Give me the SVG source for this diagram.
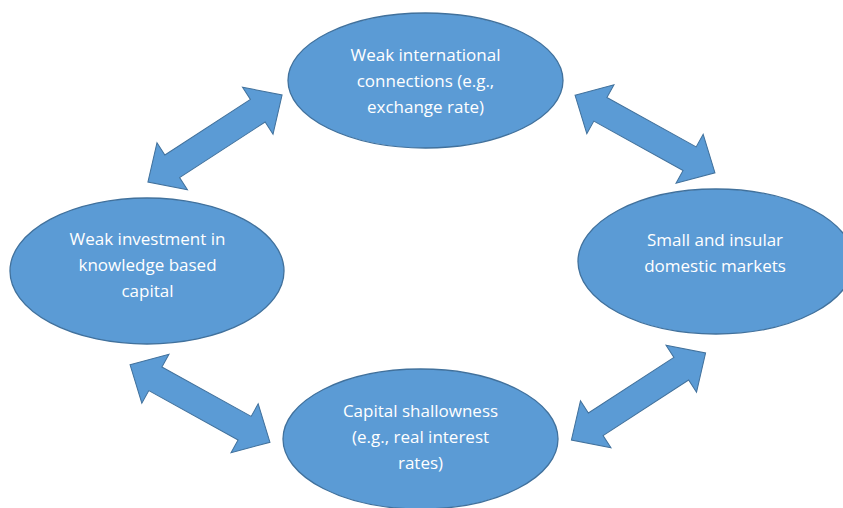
<svg xmlns="http://www.w3.org/2000/svg" width="843" height="508" viewBox="0 0 843 508">
<defs>
<style>
.node ellipse{fill:#5B9BD5;stroke:#41719C;stroke-width:1.3}
.node text{fill:#FFFFFF;font-family:"Open Sans","Liberation Sans",sans-serif;font-size:17px;text-anchor:middle}
.arrow{fill:#5B9BD5;stroke:#41719C;stroke-width:1}
</style>
<path id="dbl" d="M-80,0 L-51,-28 L-51,-13.5 L51,-13.5 L51,-28 L80,0 L51,28 L51,13.5 L-51,13.5 L-51,28 Z"/>
</defs>
<rect width="843" height="508" fill="#FFFFFF"/>
<g id="connectors">
<use href="#dbl" class="arrow" transform="translate(215,138.5) rotate(-33)"/>
<use href="#dbl" class="arrow" transform="translate(645,134) rotate(29)"/>
<use href="#dbl" class="arrow" transform="translate(200,403.5) rotate(29)"/>
<use href="#dbl" class="arrow" transform="translate(638.5,396.5) rotate(-33)"/>
</g>
<g id="node-top" class="node">
<ellipse cx="425.5" cy="80.5" rx="137.5" ry="67.5"/>
<text x="425.5" y="61">Weak international</text>
<text x="425.5" y="87">connections (e.g.,</text>
<text x="425.5" y="113">exchange rate)</text>
</g>
<g id="node-left" class="node">
<ellipse cx="147" cy="271" rx="137" ry="73"/>
<text x="147.5" y="245">Weak investment in</text>
<text x="147.5" y="271">knowledge based</text>
<text x="147.5" y="297">capital</text>
</g>
<g id="node-right" class="node">
<ellipse cx="716" cy="261.5" rx="138" ry="72.5"/>
<text x="715" y="246">Small and insular</text>
<text x="715" y="272">domestic markets</text>
</g>
<g id="node-bottom" class="node">
<ellipse cx="420.5" cy="439" rx="137.5" ry="70"/>
<text x="420.5" y="417">Capital shallowness</text>
<text x="420.5" y="443">(e.g., real interest</text>
<text x="420.5" y="469">rates)</text>
</g>
</svg>
